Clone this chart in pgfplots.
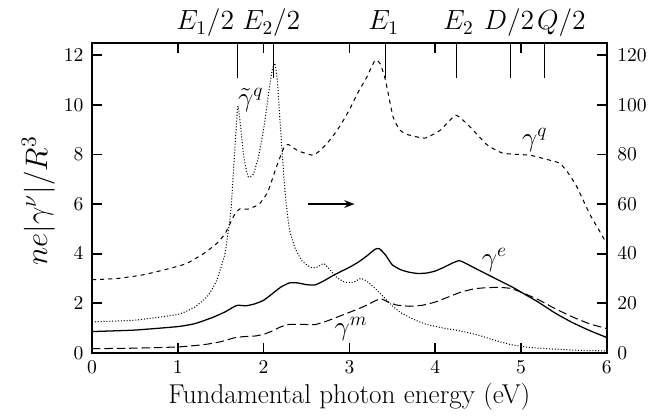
\RequirePackage{fix-cm}
\documentclass[border=0pt]{standalone}
\usepackage{fontspec}
\usepackage{pgfplots}
\pgfplotsset{compat=1.18}
\usetikzlibrary{arrows.meta}
\tikzset{toplab/.style={font=\fontsize{16.3}{19}\selectfont, anchor=base, yshift=7.6pt},
  curlab/.style={font=\fontsize{16}{19}\selectfont}}
\begin{document}
\begin{tikzpicture}
\pgfplotsset{
  base/.style={scale only axis, width=302.9pt, height=182.4pt,
    xmin=0, xmax=6, ymin=0, ymax=12.5,
    axis line style={line width=1.1pt},
    tick style={line width=1pt, black},
    tick label style={font=\fontsize{11.5}{13}\selectfont},
    major tick length=5.9pt, tick align=inside, clip=false},
}
\begin{axis}[base,
  xtick={0,...,6}, ytick={0,2,...,12},
  xtick pos=both, ytick pos=left,
  every x tick label/.append style={yshift=-3.8pt, inner sep=1pt},
  every y tick label/.append style={xshift=-1.5pt},
  xlabel={Fundamental photon energy (eV)},
  xlabel style={font=\fontsize{16}{19}\selectfont, at={(axis description cs:0.5,0)}, anchor=base, yshift=-29.6pt, inner sep=1pt},
  ylabel={$ne|\gamma^\nu|/R^3$},
  ylabel style={font=\fontsize{18.3}{22}\selectfont, at={(axis description cs:-0.104,0.49)}, anchor=center},
]
\coordinate (SW) at (rel axis cs:0,0);
% gamma tilde q (dotted)
\addplot[black, line width=0.6pt, dash pattern=on 0.6pt off 1.1pt, smooth, tension=0.3] coordinates {
(0,1.25) (0.5,1.32) (1.0,1.55) (1.2,1.85) (1.35,2.3) (1.45,2.9) (1.55,4.0) (1.62,5.8) (1.67,8.5) (1.70,9.95) (1.73,9.2) (1.77,7.9) (1.82,7.1) (1.88,7.2) (1.94,7.9) (2.00,9.0) (2.06,10.5) (2.10,11.4) (2.13,11.68) (2.16,11.0) (2.20,8.9) (2.25,6.5) (2.30,5.0) (2.37,4.2) (2.45,3.7) (2.55,3.45) (2.62,3.45) (2.70,3.6) (2.76,3.4) (2.85,3.05) (2.95,2.85) (3.05,2.85) (3.13,3.0) (3.20,2.9) (3.30,2.6) (3.40,2.25) (3.50,1.9) (3.60,1.62) (3.75,1.35) (3.9,1.15) (4.1,1.0) (4.3,0.88) (4.5,0.72) (4.7,0.5) (4.9,0.32) (5.1,0.22) (5.4,0.15) (5.7,0.1) (6.0,0.08)
};
% gamma e (solid)
\addplot[black, line width=0.75pt, smooth, tension=0.3] coordinates {
(0,0.86) (0.5,0.92) (1.0,1.06) (1.2,1.18) (1.4,1.42) (1.55,1.65) (1.65,1.85) (1.70,1.92) (1.80,1.90) (1.90,1.98) (2.0,2.12) (2.1,2.38) (2.2,2.65) (2.3,2.82) (2.4,2.82) (2.5,2.75) (2.6,2.74) (2.7,2.9) (2.8,3.1) (2.9,3.28) (3.0,3.45) (3.1,3.65) (3.2,3.9) (3.3,4.18) (3.35,4.2) (3.42,3.95) (3.5,3.55) (3.6,3.35) (3.7,3.25) (3.8,3.2) (3.9,3.22) (4.0,3.3) (4.1,3.45) (4.2,3.62) (4.28,3.72) (4.35,3.62) (4.5,3.35) (4.7,3.0) (4.9,2.65) (5.0,2.45) (5.2,2.05) (5.4,1.6) (5.6,1.22) (5.8,0.9) (6.0,0.62)
};
% gamma m (long dashed)
\addplot[black, line width=0.6pt, dash pattern=on 5pt off 2.3pt, smooth, tension=0.3] coordinates {
(0,0.17) (0.5,0.19) (1.0,0.24) (1.3,0.33) (1.5,0.45) (1.65,0.6) (1.75,0.65) (1.9,0.68) (2.0,0.75) (2.1,0.88) (2.2,1.05) (2.3,1.15) (2.45,1.15) (2.6,1.14) (2.75,1.3) (2.9,1.5) (3.05,1.7) (3.2,1.92) (3.3,2.1) (3.37,2.18) (3.45,2.05) (3.55,1.93) (3.7,1.88) (3.85,1.92) (4.0,2.05) (4.15,2.25) (4.3,2.45) (4.45,2.58) (4.6,2.63) (4.75,2.64) (4.88,2.6) (5.0,2.45) (5.2,2.15) (5.4,1.78) (5.6,1.45) (5.8,1.17) (6.0,0.98)
};
\draw[-{Stealth[length=6pt,width=4.5pt]}, line width=1.3pt] (axis cs:2.52,6) -- (axis cs:3.06,6);
\node[curlab] at (axis cs:1.85,10.2) {$\tilde\gamma^q$};
\node[curlab] at (axis cs:5.16,8.58) {$\gamma^q$};
\node[curlab] at (axis cs:4.69,3.75) {$\gamma^e$};
\node[curlab] at (axis cs:3.02,0.97) {$\gamma^m$};
\end{axis}
\begin{axis}[base, ymax=125,
  xtick=\empty, ytick={0,20,...,120},
  ytick pos=right, yticklabel pos=right,
  every y tick label/.append style={xshift=2.7pt},
]
% gamma q (short dashed, right axis)
\addplot[black, line width=0.6pt, dash pattern=on 2.4pt off 2.4pt, smooth, tension=0.3] coordinates {
(0,29.5) (0.3,30) (0.6,31.5) (0.9,34) (1.1,36) (1.3,40) (1.45,44) (1.55,48) (1.65,55) (1.72,58) (1.82,58) (1.95,60) (2.05,65) (2.15,75) (2.24,83) (2.29,84) (2.4,81.5) (2.58,79.7) (2.7,83) (2.8,87) (2.9,92) (3.0,98) (3.1,105) (3.2,111) (3.3,118) (3.36,116.5) (3.42,110) (3.51,95) (3.59,89.8) (3.68,88) (3.88,86.6) (4.06,89.8) (4.24,95.8) (4.41,91) (4.6,84) (4.79,80.5) (5.1,79.7) (5.3,78) (5.45,76.5) (5.55,72.5) (5.65,67) (5.8,56) (5.9,50) (6.0,44)
};
\end{axis}
\begin{axis}[base,
  xtick={1.70,2.12,3.42,4.25,4.88,5.27}, xticklabels={},
  xtick pos=right, ytick=\empty,
  major tick length=20.6pt, tick style={line width=0.6pt, black},
  axis line style={draw=none},
]
\node[toplab] at (axis cs:1.32,12.5) {$E_1/2$};
\node[toplab] at (axis cs:2.09,12.5) {$E_2/2$};
\node[toplab] at (axis cs:3.40,12.5) {$E_1$};
\node[toplab] at (axis cs:4.27,12.5) {$E_2$};
\node[toplab] at (axis cs:4.86,12.5) {$D/2$};
\node[toplab] at (axis cs:5.47,12.5) {$Q/2$};
\end{axis}
\pgfresetboundingbox
\path[use as bounding box] ([xshift=-54.1pt,yshift=-37.1pt]SW) rectangle ++(392.4pt,244.7pt);
\end{tikzpicture}
\end{document}
